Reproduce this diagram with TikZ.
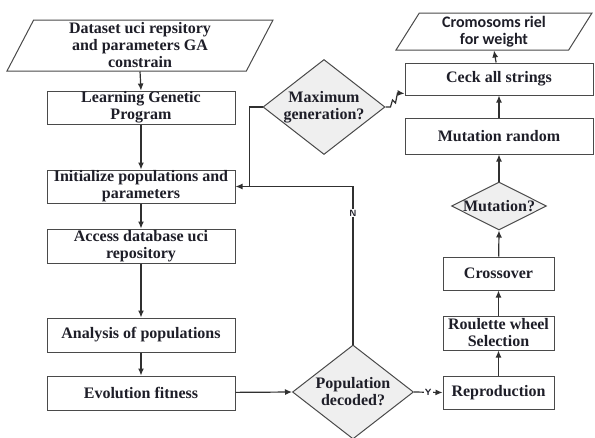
\documentclass[tikz,border=0pt]{standalone}
\usepackage{fontspec}
\setmainfont{Liberation Serif}
\newfontfamily\cromfont{Carlito}
\usepackage{xcolor}
\usetikzlibrary{shapes.geometric,arrows.meta}
\definecolor{ink}{HTML}{1E1E28}
\definecolor{frame}{HTML}{4A4A4A}
\definecolor{wire}{HTML}{303030}
\definecolor{shade}{HTML}{EFEFEF}
\tikzset{
  txt/.style={text=ink, font=\bfseries\fontsize{16}{17}\selectfont, align=center},
  box/.style={txt, draw=frame, line width=1pt, fill=white, minimum height=33pt, inner sep=0pt},
  wide/.style={box, minimum width=188pt},
  narrow/.style={box, minimum width=111pt},
  io/.style={txt, draw=frame, line width=1pt, trapezium, trapezium stretches body, inner sep=0pt},
  decision/.style={diamond, draw=frame, line width=1pt, fill=shade, inner sep=0pt},
  wire/.style={draw=wire, line width=1.2pt},
  arr/.style={wire, -{Latex[length=7pt,width=6pt]}},
  tag/.style={text=ink, font=\bfseries\sffamily\small, fill=white, inner sep=1pt}
}
\begin{document}
\begin{tikzpicture}[x=1pt, y=-1pt]
  \useasboundingbox (0,0) rectangle (595,437);
  \fill[white] (0,0) rectangle (595,437);

  % left column
  \node[io, trapezium left angle=59.5, trapezium right angle=120.5,
        minimum width=266pt, minimum height=51pt] (data) at (140,45.5)
        {Dataset uci repsitory\\and parameters GA\\constrain};
  \node[wide] (learn) at (141,107.5) {Learning Genetic\\Program};
  \node[wide] (init) at (141,186.5) {Initialize populations and\\parameters};
  \node[wide, minimum height=34pt] (access) at (141,246) {Access database uci\\repository};
  \node[wide, minimum height=34pt] (anal) at (141,335) {Analysis of populations};
  \node[wide, minimum height=34pt] (evol) at (141,393) {Evolution fitness};

  % decisions
  \node[decision, minimum width=122pt, minimum height=95pt,
        label={[txt]center:{Maximum\\generation?}}] (maxgen) at (324,107) {};
  \node[decision, minimum width=121pt, minimum height=94pt,
        label={[txt]center:{Population\\decoded?}}] (popdec) at (353,392) {};
  \node[decision, minimum width=95pt, minimum height=48pt,
        label={[txt]center:{Mutation?}}] (mut) at (499,206) {};

  % right column
  \node[io, trapezium left angle=53, trapezium right angle=127,
        minimum width=196pt, minimum height=37pt,
        font=\cromfont\bfseries\fontsize{16}{17}\selectfont] (crom) at (494,31.5)
        {Cromosoms riel\\for weight};
  \node[wide, minimum height=32pt] (ceck) at (499,79) {Ceck all strings};
  \node[wide, minimum height=36pt] (mutrand) at (499,136) {Mutation random};
  \node[narrow] (cross) at (498.5,273.5) {Crossover};
  \node[narrow, minimum height=34pt] (roul) at (498.5,333) {Roulette wheel\\Selection};
  \node[narrow] (repro) at (498.5,392.5) {Reproduction};

  % connectors
  \draw[arr] (data.south) -- (learn.north);
  \draw[arr] (learn) -- (init);
  \draw[arr] (init) -- (access);
  \draw[arr] (access) -- (anal);
  \draw[arr] (anal) -- (evol);
  \draw[arr] (evol) -- (popdec.west);
  \draw[arr] (popdec.north) |- (init.east) node[tag, pos=0.415] {N};
  \draw[wire] (maxgen.west) -| ([xshift=14pt]init.east);
  \draw[arr] (maxgen.east) -- ++(5,0) -- ++(2,-7) -- ++(3,3) -- ++(2,-10)
     -- ([yshift=2pt]ceck.south west);
  \draw[arr] (popdec.east) -- (repro.west) node[tag, midway] {Y};
  \draw[arr] (repro) -- (roul);
  \draw[arr] (roul) -- (cross);
  \draw[arr] (cross) -- (mut.south);
  \draw[arr] (mut.north) -- (mutrand.south);
  \draw[arr] (mutrand) -- (ceck);
  \draw[arr] (ceck) -- (crom.south);
\end{tikzpicture}
\end{document}
